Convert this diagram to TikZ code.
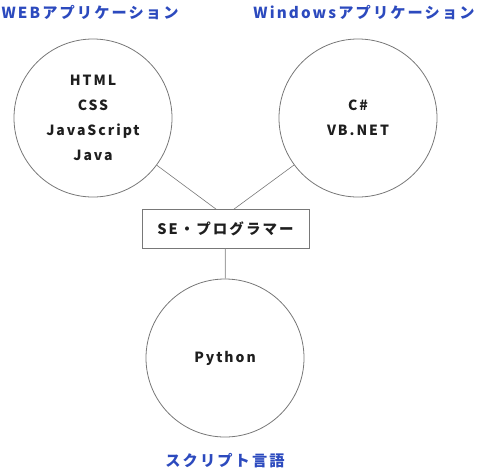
\documentclass[tikz,border=0pt]{standalone}
\usepackage{fontspec}
\setmainfont{Noto Sans CJK JP}[LetterSpace=14]
\usepackage{xcolor}
\usetikzlibrary{positioning,calc}
\definecolor{grouptext}{RGB}{44,74,190}
\definecolor{bodytext}{RGB}{30,30,30}
\definecolor{ringline}{RGB}{120,120,120}
\tikzset{
  techcircle/.style={circle,draw=ringline,line width=0.8pt,minimum size=158pt,inner sep=0pt,align=center,text=bodytext,font=\bfseries\fontsize{14}{25}\selectfont},
  rolebox/.style={draw=ringline,line width=0.8pt,minimum width=167pt,minimum height=39pt,inner sep=0pt,text=bodytext,font=\bfseries\fontsize{14.5}{18}\selectfont},
  grouplabel/.style={text=grouptext,inner sep=0pt,font=\bfseries\fontsize{15.2}{18}\selectfont},
  link/.style={draw=ringline,line width=0.6pt},
  stem/.style={draw=black!35,line width=1pt},
}
\begin{document}
\begin{tikzpicture}[x=1pt,y=-1pt]
  \useasboundingbox (0,0) rectangle (477,472);
  \node[techcircle] (web) at (93,118) {HTML\\CSS\\JavaScript\\Java};
  \node[techcircle] (win) at (358,118) {C\#\\VB.NET};
  \node[techcircle] (script) at (225,358) {Python};
  \node[rolebox] (se) at (225.5,229) {SE・プログラマー};
  \node[grouplabel] (weblbl) at (90,13) {WEBアプリケーション};
  \node[grouplabel] (winlbl) at (364,13) {Windowsアプリケーション};
  \node[grouplabel] (scriptlbl) at (225,461) {スクリプト言語};
  \draw[link] (web) -- ([xshift=-9.5pt]se.north);
  \draw[link] (win) -- ([xshift=8.5pt]se.north);
  \draw[stem] (se) -- (script);
\end{tikzpicture}
\end{document}
